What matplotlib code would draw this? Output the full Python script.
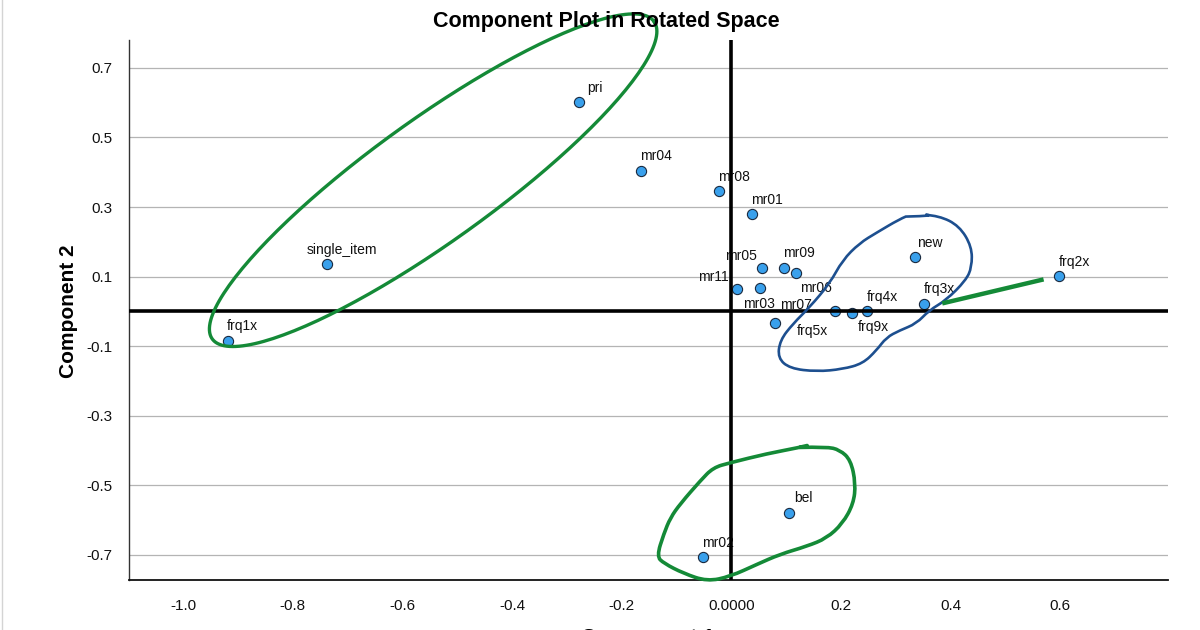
import matplotlib
matplotlib.use('Agg')
import matplotlib.pyplot as plt
import numpy as np
from matplotlib.lines import Line2D
from matplotlib.path import Path
from matplotlib.patches import PathPatch

plt.rcParams['font.family'] = ['Liberation Sans', 'DejaVu Sans']

# component loadings
labels = ['frq1x', 'single_item', 'pri', 'mr04', 'mr08', 'mr01', 'mr05', 'mr09',
          'mr06', 'mr11', 'mr03', 'mr07', 'frq5x', 'frq9x', 'frq4x', 'new',
          'frq3x', 'frq2x', 'bel', 'mr02']
comp1 = [-0.919, -0.738, -0.277, -0.164, -0.022, 0.037, 0.056, 0.097,
         0.119, 0.010, 0.052, 0.079, 0.189, 0.220, 0.248, 0.335,
         0.352, 0.599, 0.105, -0.051]
comp2 = [-0.085, 0.135, 0.601, 0.404, 0.346, 0.279, 0.125, 0.125,
         0.110, 0.063, 0.066, -0.034, 0.001, -0.006, 0.000, 0.155,
         0.022, 0.101, -0.578, -0.707]

xticks = [-1.0, -0.8, -0.6, -0.4, -0.2, 0.0, 0.2, 0.4, 0.6]
xtick_labels = ['-1.0', '-0.8', '-0.6', '-0.4', '-0.2', '0.0000', '0.2', '0.4', '0.6']
yticks = [0.7, 0.5, 0.3, 0.1, -0.1, -0.3, -0.5, -0.7]

# hand drawn marks on top of the chart (outline vertices)
blue_loop_x = [0.330, 0.379, 0.416, 0.439, 0.439, 0.428, 0.392, 0.361, 0.338, 0.307,
               0.283, 0.265, 0.240, 0.203, 0.156, 0.107, 0.085, 0.089, 0.113, 0.143,
               0.180, 0.203, 0.234, 0.265, 0.307]
blue_loop_y = [0.280, 0.275, 0.246, 0.186, 0.127, 0.089, 0.032, 0.003, -0.035, -0.055,
               -0.075, -0.112, -0.150, -0.166, -0.173, -0.164, -0.134, -0.083, -0.035, 0.012,
               0.081, 0.147, 0.196, 0.226, 0.265]
green_loop_x = [0.152, 0.125, 0.065, -0.002, -0.033, -0.056, -0.093, -0.111, -0.123, -0.136,
                -0.123, -0.087, -0.044, -0.002, 0.047, 0.089, 0.138, 0.174, 0.203, 0.223,
                0.227, 0.218, 0.198, 0.174, 0.125]
green_loop_y = [-0.380, -0.391, -0.409, -0.435, -0.449, -0.486, -0.553, -0.593, -0.639, -0.704,
                -0.724, -0.753, -0.776, -0.762, -0.727, -0.698, -0.675, -0.652, -0.610, -0.553,
                -0.495, -0.427, -0.398, -0.389, -0.391]
green_stroke_x = [0.385, 0.570]
green_stroke_y = [0.023, 0.092]
# big ellipse: centre, half axes (pixels) and angle on screen
ell_center = (-0.544, 0.377)
ell_a, ell_b, ell_angle = 272, 61, 35.7

# label offsets in pixels, default is above-right
label_offsets = {'mr05': (-21, 8), 'mr11': (-23, 8), 'mr06': (20, -19),
                 'mr03': (-1, -20), 'mr07': (21, 14), 'frq5x': (-22, -24),
                 'frq9x': (22, -18)}


def smooth_path(xs, ys, closed=True):
    # quadratic curves through the midpoints, vertices act as control points
    pts = list(zip(xs, ys))
    if closed:
        pts = pts + pts[:1]
    mids = [((a[0] + b[0]) / 2, (a[1] + b[1]) / 2) for a, b in zip(pts[:-1], pts[1:])]
    verts = [mids[0]]
    codes = [Path.MOVETO]
    seq = pts[1:-1] + ([pts[1]] if closed else [])
    ends = mids[1:] + ([mids[0]] if closed else [])
    if not closed:
        ends[-1] = pts[-1]
    for c, e in zip(seq, ends):
        verts += [c, e]
        codes += [Path.CURVE3, Path.CURVE3]
    return Path(verts, codes)


fig = plt.figure(figsize=(12, 6.3), dpi=100)
ax = fig.add_axes([129/1200, 1 - 580/630, 1039/1200, 540/630])
ax.set_xlim(-1.099, 0.797)
ax.set_ylim(-0.772, 0.780)

for y in yticks:
    ax.axhline(y, color='#b4b4b4', lw=0.9, zorder=1)

ax.scatter(comp1, comp2, s=54, color='#39a0ec', edgecolors='#1a2a40', linewidths=0.8, zorder=3)
for name, x, y in zip(labels, comp1, comp2):
    dx, dy = label_offsets.get(name, (15, 10.5))
    ax.annotate(name, (x, y), xytext=(dx, dy), textcoords='offset pixels',
                ha='center', va='baseline', fontsize=10, color='#111111', zorder=4)

ax.axhline(0, color='black', lw=2.6, zorder=5)
ax.axvline(0, color='black', lw=2.6, zorder=5)

ax.set_xticks(xticks)
ax.set_xticklabels(xtick_labels)
ax.set_yticks(yticks)
ax.set_yticklabels([f'{v:.1f}' for v in yticks])
ax.tick_params(length=0, labelsize=11, pad=14, colors='#111111')
ax.tick_params(axis='y', pad=12)
for side in ['top', 'right']:
    ax.spines[side].set_visible(False)
ax.spines['left'].set_color('#333333')
ax.spines['left'].set_linewidth(1.0)
ax.spines['bottom'].set_color('#111111')
ax.spines['bottom'].set_linewidth(1.3)

# annotation shapes
t = np.linspace(0, 2 * np.pi, 200)
ang = np.radians(ell_angle)
px = ell_a * np.cos(t) * np.cos(ang) - ell_b * np.sin(t) * np.sin(ang)
py = ell_a * np.cos(t) * np.sin(ang) + ell_b * np.sin(t) * np.cos(ang)
ax.plot(ell_center[0] + px / 548, ell_center[1] + py / 347.9, color='#148a37', lw=2.4,
        zorder=6, clip_on=False)
ax.add_patch(PathPatch(smooth_path(blue_loop_x, blue_loop_y), facecolor='none',
                       edgecolor='#1d4f8f', lw=1.9, zorder=6, clip_on=False))
ax.add_patch(PathPatch(smooth_path(green_loop_x, green_loop_y, closed=False), facecolor='none',
                       edgecolor='#148a37', lw=2.6, zorder=6, clip_on=False, capstyle='round'))
ax.plot(green_stroke_x, green_stroke_y, color='#148a37', lw=3.2, zorder=6,
        solid_capstyle='butt')

fig.text(606/1200, 1 - 22/630, 'Component Plot in Rotated Space', ha='center', va='center',
         fontsize=15.5, fontweight='bold')
fig.text(68/1200, 1 - 311/630, 'Component 2', rotation=90, ha='center', va='center',
         fontsize=15, fontweight='bold')
fig.text(648/1200, (630 - 643)/630, 'Component 1', ha='center', va='baseline',
         fontsize=15, fontweight='bold')
fig.add_artist(Line2D([2/1200, 2/1200], [0, 1], color='#d4d4d4', lw=1))

fig.savefig('out.png', dpi=100)
